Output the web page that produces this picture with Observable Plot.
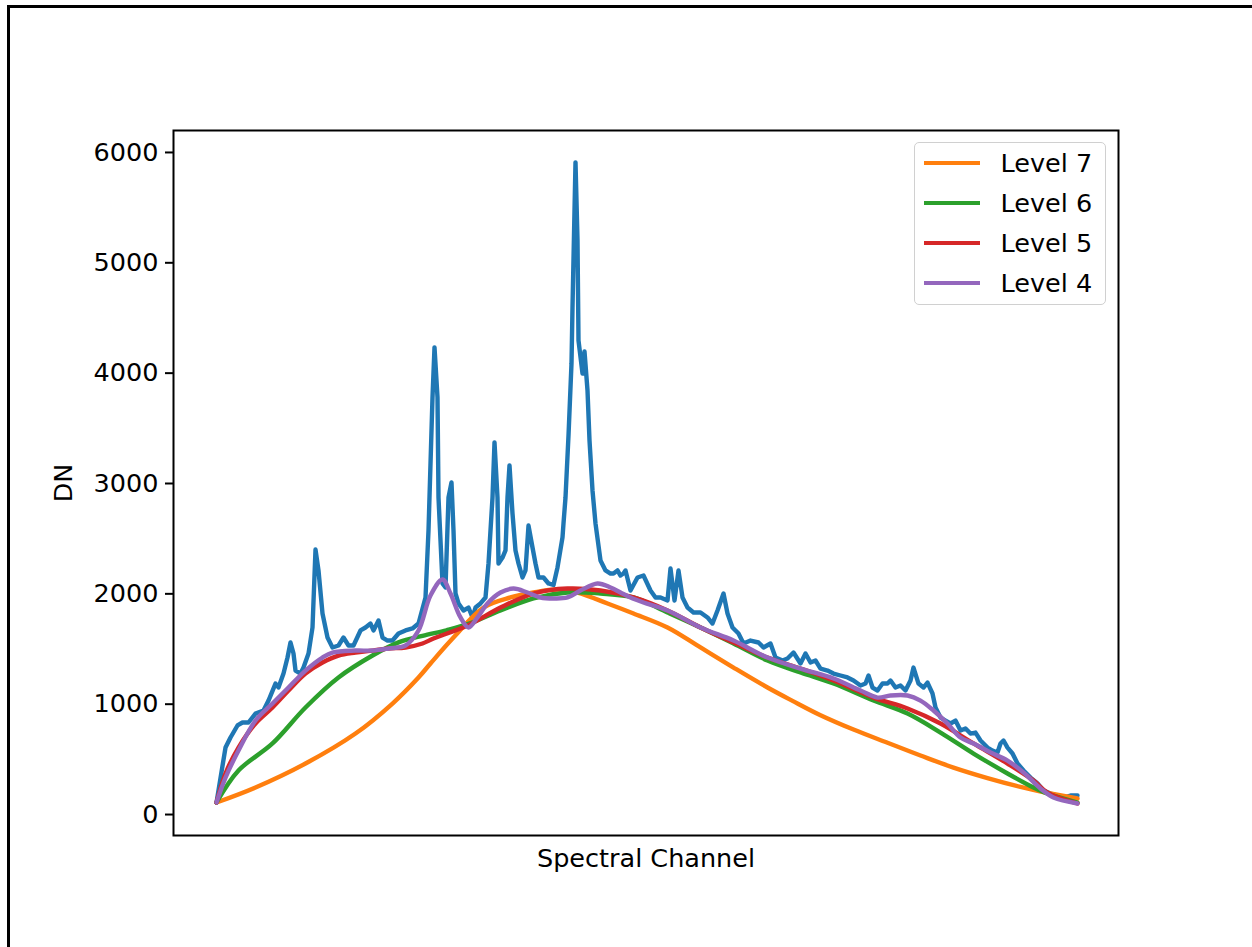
<!DOCTYPE html>
<html>
<head>
<meta charset="utf-8">
<script src="https://cdn.jsdelivr.net/npm/d3@7"></script>
<script src="https://cdn.jsdelivr.net/npm/@observablehq/plot@0.6"></script>
<style>
  html, body { margin: 0; padding: 0; background: #fff; }
  body { width: 1252px; height: 947px; position: relative; overflow: hidden; font-family: "DejaVu Sans", sans-serif; }
  #border { position: absolute; left: 7px; top: 5px; width: 1260px; height: 960px; border-top: 3px solid #000; border-left: 3px solid #000; box-sizing: border-box; }
  #chart { position: absolute; left: 0; top: 0; }
  #legend { position: absolute; left: 914px; top: 142px; width: 192px; height: 163px; box-sizing: border-box;
            border: 1.5px solid #d0d0d0; border-radius: 5px; background: rgba(255,255,255,0.8); }
  .row { position: absolute; left: 0; height: 30px; display: flex; align-items: center; }
  .sw { width: 56px; height: 0; border-top: 4px solid; margin-left: 8.5px; margin-right: 21px; }
  .lab { font-size: 25.5px; color: #000; line-height: 30px; }
</style>
</head>
<body>
<div id="border"></div>
<div id="chart"></div>
<div id="legend"></div>
<script>
// ---- Data (channel index, DN) ----
const spectrumChannel = [0,9,14,21,26,32,39,47,52,59,62,67,71,74,77,79,84,87,92,96,99,102,106,111,116,122,127,132,137,144,149,154,157,162,166,171,176,182,189,196,202,209,212,216,218,221,222,226,229,232,235,237,239,242,247,252,256,259,264,269,272,276,278,281,282,286,289,291,293,296,299,302,306,309,312,316,319,322,327,332,337,341,346,347,349,352,355,356,359,361,362,366,368,371,373,376,379,384,389,394,397,401,404,407,409,414,421,427,434,439,444,451,454,458,462,466,471,477,484,491,496,501,507,511,516,522,527,534,542,547,554,559,566,571,577,584,589,594,599,604,611,617,624,631,637,644,649,652,656,661,666,671,674,679,684,689,694,697,702,707,711,716,719,724,729,734,739,744,749,754,759,764,771,776,781,784,787,791,796,801,807,814,821,827,834,841,847,854,861];
const spectrumDN = [109,607,698,807,834,834,915,943,1033,1187,1151,1278,1423,1559,1459,1305,1278,1332,1459,1695,2402,2212,1822,1604,1514,1532,1604,1532,1532,1668,1695,1731,1668,1758,1604,1577,1577,1641,1668,1686,1731,1967,2574,3780,4233,3780,2873,2094,2058,2873,3009,2574,2003,1913,1849,1876,1786,1876,1913,1967,2275,2873,3372,2873,2275,2329,2393,2873,3163,2728,2393,2275,2148,2212,2619,2420,2275,2148,2148,2094,2080,2239,2511,2638,2873,3435,4088,4595,5910,5203,4296,3997,4197,3843,3390,2937,2638,2302,2212,2184,2184,2212,2166,2184,2212,2030,2148,2166,2030,1967,1967,1940,2230,1940,2212,1967,1876,1831,1831,1786,1731,1849,2003,1822,1695,1641,1550,1577,1559,1514,1550,1423,1396,1414,1468,1369,1459,1378,1396,1323,1305,1278,1260,1242,1215,1169,1187,1260,1151,1124,1187,1187,1215,1151,1169,1124,1215,1332,1187,1151,1196,1097,970,879,852,825,852,761,780,734,743,671,607,580,562,644,671,607,553,462,399,335,281,218,190,172,154,172,172];

const level7Channel = [0,39,89,139,176,202,214,237,267,294,317,341,361,391,417,451,484,517,551,576,604,637,671,704,737,771,804,831,861];
const level7DN = [109,245,462,734,1006,1242,1369,1604,1876,1967,2012,2039,2012,1913,1822,1695,1514,1332,1151,1030,900,770,650,535,425,330,250,195,145];

const level6Channel = [0,22,56,89,122,156,182,206,230,251,284,317,351,384,417,451,484,517,551,584,617,657,691,724,757,791,817,831,861];
const level6DN = [109,399,644,970,1242,1441,1560,1620,1670,1725,1850,1960,2012,2003,1967,1831,1695,1550,1396,1287,1187,1033,915,743,553,372,245,190,109];

const level5Channel = [0,9,22,39,56,72,89,106,122,139,156,172,189,206,217,251,284,317,351,384,417,451,484,517,551,584,617,657,691,724,757,791,817,831,861];
const level5DN = [109,372,607,825,970,1124,1278,1378,1441,1468,1486,1505,1514,1550,1595,1713,1876,2003,2048,2030,1967,1849,1695,1559,1423,1323,1215,1060,961,825,644,462,308,199,100];

const level4Channel = [0,9,22,39,56,72,89,106,116,139,156,172,189,202,214,226,234,244,252,261,271,284,297,311,324,337,351,364,381,394,404,414,427,451,484,517,551,584,617,644,661,674,691,704,717,731,744,757,774,791,807,824,837,861];
const level4DN = [109,335,580,852,1006,1151,1305,1423,1468,1486,1486,1505,1532,1668,1985,2130,2003,1786,1695,1786,1913,2012,2048,2012,1967,1958,1967,2030,2094,2058,2012,1967,1922,1849,1695,1577,1423,1323,1233,1124,1060,1079,1079,1033,943,825,698,644,562,489,381,236,154,100];

const seriesNames = ["Level 7", "Level 6", "Level 5", "Level 4"];
const seriesColors = ["#ff7f0e", "#2ca02c", "#d62728", "#9467bd"];
const yTicks = [0, 1000, 2000, 3000, 4000, 5000, 6000];

// ---- Build tables ----
const spectrum = spectrumChannel.map((c, i) => ({channel: c, dn: spectrumDN[i]}));
const levelData = [
  [level7Channel, level7DN],
  [level6Channel, level6DN],
  [level5Channel, level5DN],
  [level4Channel, level4DN]
].map(([ch, dn], k) => ch.map((c, i) => ({channel: c, dn: dn[i], series: seriesNames[k]})));

const lw = 4.4;
const fs = 25.5;
const chart = Plot.plot({
  width: 1252,
  height: 947,
  marginLeft: 173,
  marginRight: 134,
  marginTop: 130,
  marginBottom: 112,
  style: {fontFamily: "DejaVu Sans, sans-serif", fontSize: fs + "px", color: "#000", background: "transparent"},
  x: {domain: [-43, 902]},
  y: {domain: [-190, 6199]},
  marks: [
    Plot.line(spectrum, {x: "channel", y: "dn", stroke: "#1f77b4", strokeWidth: lw, strokeLinejoin: "round", strokeLinecap: "round"}),
    ...levelData.map((d, k) => Plot.line(d, {x: "channel", y: "dn", stroke: seriesColors[k], strokeWidth: lw, strokeLinejoin: "round", curve: "catmull-rom"})),
    Plot.frame({stroke: "#000", strokeWidth: 2}),
    Plot.axisY({ticks: yTicks, tickSize: 8, tickPadding: 7, tickFormat: d => String(d), label: null, strokeWidth: 2, fontSize: fs}),
    Plot.axisX({ticks: [], label: null}),
    Plot.text(["DN"], {frameAnchor: "left", dx: -110, rotate: -90, fontSize: fs, textAnchor: "middle", lineAnchor: "middle"}),
    Plot.text(["Spectral Channel"], {frameAnchor: "bottom", dy: 23, fontSize: fs, textAnchor: "middle", lineAnchor: "middle"})
  ]
});
document.getElementById("chart").appendChild(chart);

// ---- Legend ----
const legend = document.getElementById("legend");
seriesNames.forEach((name, k) => {
  const row = document.createElement("div");
  row.className = "row";
  row.style.top = (4.5 + k * 40) + "px";
  const sw = document.createElement("div");
  sw.className = "sw";
  sw.style.borderTopColor = seriesColors[k];
  const lab = document.createElement("span");
  lab.className = "lab";
  lab.textContent = name;
  row.appendChild(sw);
  row.appendChild(lab);
  legend.appendChild(row);
});
</script>
</body>
</html>
